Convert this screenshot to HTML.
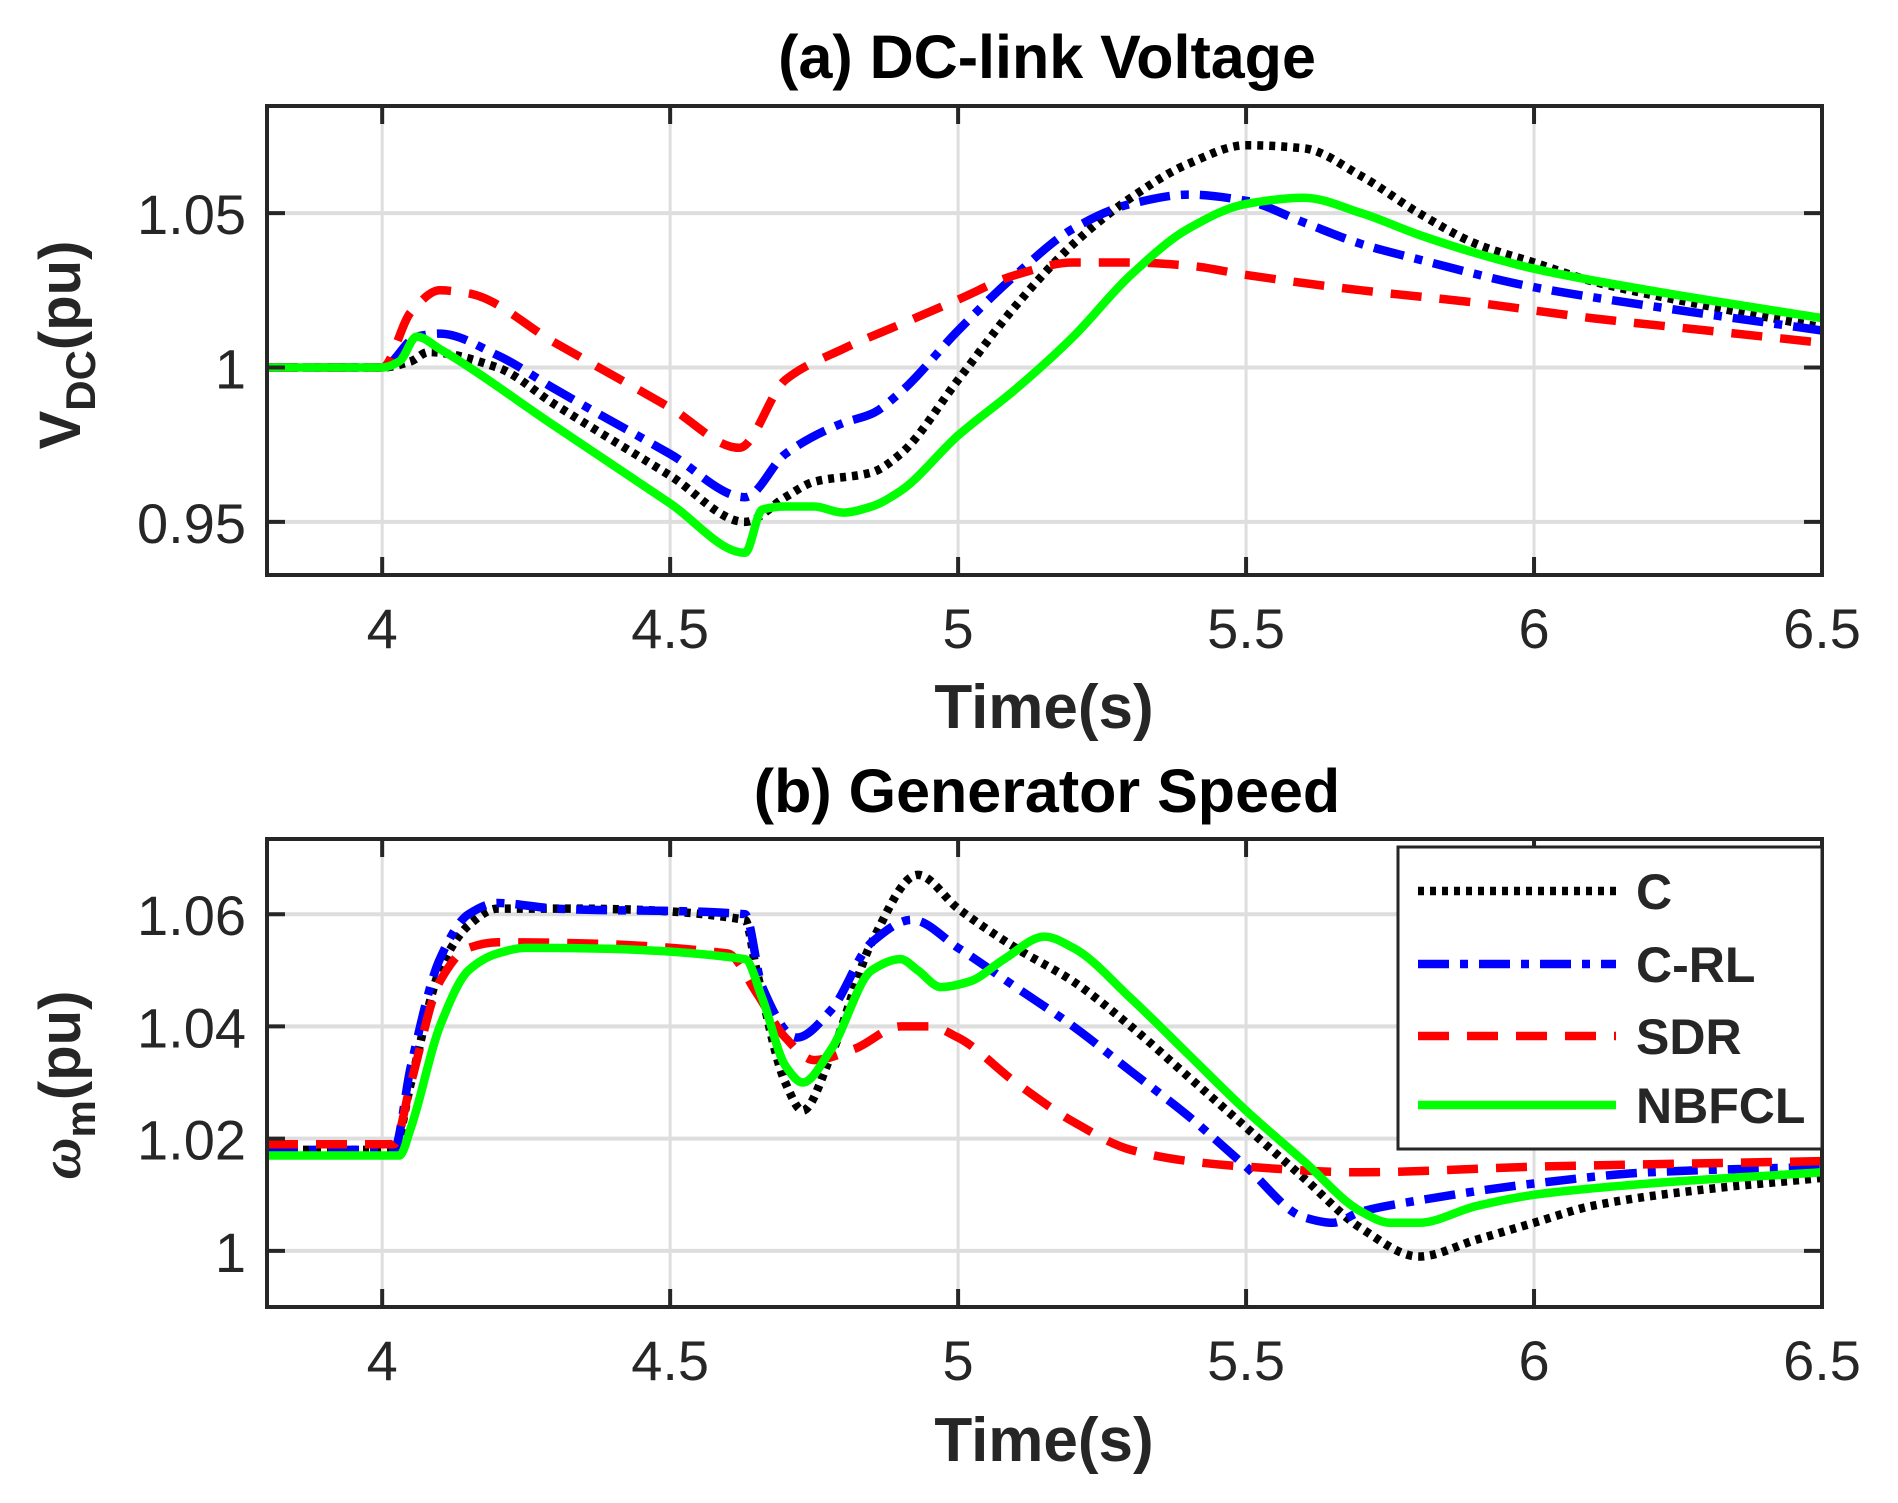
<!DOCTYPE html>
<html><head><meta charset="utf-8"><style>
html,body{margin:0;padding:0;background:#fff}
svg{display:block}
text{font-family:"Liberation Sans",Arial,sans-serif;fill:#262626}
</style></head><body>
<svg id="chart" width="1898" height="1503" viewBox="0 0 1898 1503" xmlns="http://www.w3.org/2000/svg"></svg>
<script>
// ---- Shared axis data
const xTicks = [4, 4.5, 5, 5.5, 6, 6.5];
const xTickLabels = ["4", "4.5", "5", "5.5", "6", "6.5"];
const yTicksA = [0.95, 1, 1.05];
const yTickLabelsA = ["0.95", "1", "1.05"];
const yTicksB = [1, 1.02, 1.04, 1.06];
const yTickLabelsB = ["1", "1.02", "1.04", "1.06"];
const seriesNames = ["C", "C-RL", "SDR", "NBFCL"];

// ---- Panel (a) DC-link voltage
const tA_C = [3.8,4.0,4.05,4.08,4.2,4.3,4.5,4.63,4.7,4.75,4.85,4.9,5.0,5.1,5.2,5.3,5.4,5.5,5.6,5.7,5.8,5.9,6.0,6.1,6.3,6.5];
const vA_C = [1.0,1.0,1.002,1.005,1.0,0.988,0.965,0.950,0.958,0.963,0.966,0.972,0.996,1.02,1.04,1.055,1.066,1.072,1.071,1.062,1.05,1.04,1.034,1.028,1.02,1.013];
const tA_CRL = [3.8,4.0,4.06,4.1,4.2,4.3,4.5,4.63,4.7,4.8,4.85,4.9,5.0,5.1,5.2,5.3,5.4,5.5,5.6,5.7,5.8,6.0,6.2,6.5];
const vA_CRL = [1.0,1.0,1.01,1.011,1.004,0.993,0.972,0.958,0.972,0.982,0.985,0.992,1.012,1.03,1.045,1.053,1.056,1.054,1.047,1.04,1.035,1.026,1.02,1.012];
const tA_SDR = [3.8,4.0,4.05,4.1,4.15,4.3,4.5,4.62,4.7,4.8,4.9,5.0,5.1,5.2,5.3,5.4,5.5,5.7,5.9,6.1,6.3,6.5];
const vA_SDR = [1.0,1.0,1.018,1.025,1.024,1.008,0.987,0.974,0.996,1.006,1.014,1.022,1.03,1.034,1.034,1.033,1.030,1.025,1.021,1.016,1.012,1.008];
const tA_NB = [3.8,4.0,4.03,4.06,4.1,4.3,4.5,4.63,4.66,4.7,4.75,4.8,4.85,4.9,5.0,5.1,5.2,5.3,5.4,5.5,5.6,5.7,5.8,5.9,6.0,6.2,6.5];
const vA_NB = [1.0,1.0,1.002,1.01,1.006,0.981,0.956,0.940,0.954,0.955,0.955,0.953,0.955,0.96,0.978,0.993,1.01,1.03,1.045,1.053,1.055,1.05,1.043,1.037,1.032,1.025,1.016];

// ---- Panel (b) generator speed
const tB_C = [3.8,4.02,4.05,4.1,4.15,4.2,4.3,4.63,4.65,4.7,4.73,4.78,4.85,4.93,5.0,5.1,5.2,5.3,5.4,5.5,5.6,5.7,5.8,5.9,6.0,6.1,6.3,6.5];
const vB_C = [1.018,1.018,1.03,1.05,1.058,1.061,1.061,1.059,1.05,1.03,1.025,1.035,1.055,1.067,1.061,1.054,1.048,1.04,1.031,1.022,1.013,1.004,0.999,1.002,1.005,1.008,1.011,1.013];
const tB_CRL = [3.8,4.02,4.05,4.1,4.15,4.2,4.3,4.63,4.66,4.72,4.78,4.85,4.92,5.0,5.1,5.2,5.3,5.4,5.5,5.6,5.65,5.7,5.8,6.0,6.2,6.5];
const vB_CRL = [1.018,1.018,1.033,1.052,1.06,1.062,1.061,1.06,1.047,1.038,1.043,1.055,1.059,1.054,1.047,1.04,1.032,1.024,1.015,1.006,1.005,1.007,1.009,1.012,1.014,1.015];
const tB_SDR = [3.8,4.02,4.05,4.1,4.15,4.2,4.6,4.65,4.7,4.75,4.82,4.9,4.95,5.0,5.1,5.2,5.3,5.4,5.5,5.7,6.0,6.5];
const vB_SDR = [1.019,1.019,1.03,1.048,1.054,1.055,1.053,1.046,1.038,1.034,1.036,1.04,1.04,1.038,1.03,1.023,1.018,1.016,1.015,1.014,1.015,1.016];
const tB_NB = [3.8,4.03,4.05,4.1,4.15,4.2,4.25,4.63,4.66,4.7,4.73,4.78,4.85,4.9,4.93,4.97,5.02,5.08,5.15,5.2,5.3,5.4,5.5,5.6,5.7,5.75,5.8,5.9,6.0,6.2,6.5];
const vB_NB = [1.017,1.017,1.022,1.04,1.05,1.053,1.054,1.052,1.045,1.033,1.03,1.036,1.05,1.052,1.05,1.047,1.048,1.052,1.056,1.054,1.045,1.035,1.025,1.016,1.007,1.005,1.005,1.008,1.01,1.012,1.014];

const NS = "http://www.w3.org/2000/svg";
const svg = document.getElementById('chart');
function mk(tag, attrs, parent) {
  const e = document.createElementNS(NS, tag);
  for (const k in attrs) e.setAttribute(k, attrs[k]);
  (parent || svg).appendChild(e);
  return e;
}
const styles = [
  {stroke:"#000", dash:"6 6"},
  {stroke:"#0000ff", dash:"31 11 8 11"},
  {stroke:"#ff0000", dash:"31 18"},
  {stroke:"#00ff00", dash:""}
];
function monotone(P) {
  const n = P.length;
  const dx = [], s = [];
  for (let i = 0; i < n-1; i++) { dx.push(P[i+1][0]-P[i][0]); s.push((P[i+1][1]-P[i][1])/dx[i]); }
  const m = new Array(n);
  m[0] = s[0]; m[n-1] = s[n-2];
  for (let i = 1; i < n-1; i++) {
    if (s[i-1]*s[i] <= 0) m[i] = 0;
    else {
      const w1 = 2*dx[i] + dx[i-1], w2 = dx[i] + 2*dx[i-1];
      m[i] = (w1 + w2) / (w1/s[i-1] + w2/s[i]);
    }
  }
  let d = "M" + P[0][0].toFixed(1) + "," + P[0][1].toFixed(1);
  for (let i = 0; i < n-1; i++) {
    const h = dx[i]/3;
    d += " C" + (P[i][0]+h).toFixed(1) + "," + (P[i][1]+m[i]*h).toFixed(1) + " " +
         (P[i+1][0]-h).toFixed(1) + "," + (P[i+1][1]-m[i+1]*h).toFixed(1) + " " +
         P[i+1][0].toFixed(1) + "," + P[i+1][1].toFixed(1);
  }
  return d;
}

function panel(cfg) {
  const L=267, R=1822, T=cfg.top, B=cfg.bottom;
  const xs = v => L + (v - 3.8) / (6.5 - 3.8) * (R - L);
  const ys = v => B - (v - cfg.ymin) / (cfg.ymax - cfg.ymin) * (B - T);
  const g = mk('g', {});
  
  
  const clipId = cfg.name + "-clip";
  const cp = mk('clipPath', {id:clipId}, g);
  mk('rect', {x:L, y:T, width:R-L, height:B-T}, cp);
  xTicks.forEach(t => {
    const l = mk('line', {x1:xs(t),x2:xs(t),y1:T,y2:B,stroke:"#dedede","stroke-width":3}, g);
    
    
  });
  cfg.yTicks.forEach(t => {
    const l = mk('line', {x1:L,x2:R,y1:ys(t),y2:ys(t),stroke:"#dedede","stroke-width":4}, g);
    
    
  });
  cfg.series.forEach((s, i) => {
    const P = s[0].map((t, j) => [xs(t), ys(s[1][j])]);
    const p = mk('path', {d:monotone(P), fill:"none", stroke:styles[i].stroke, "stroke-width":8.5, "stroke-dasharray":styles[i].dash, "stroke-linejoin":"round", "clip-path":"url(#"+clipId+")"}, g);
    
    
  });
  const box = mk('rect', {x:L,y:T,width:R-L,height:B-T,fill:"none",stroke:"#262626","stroke-width":4}, g);
  
  
  xTicks.forEach((t, i) => {
    mk('line', {x1:xs(t),x2:xs(t),y1:B,y2:B-18,stroke:"#262626","stroke-width":4}, g);
    mk('line', {x1:xs(t),x2:xs(t),y1:T,y2:T+18,stroke:"#262626","stroke-width":4}, g);
    const tx = mk('text', {x:xs(t), y:B+73, "text-anchor":"middle", "font-size":56}, g);
    tx.textContent = xTickLabels[i];
    
    
  });
  cfg.yTicks.forEach((t, i) => {
    mk('line', {x1:L,x2:L+18,y1:ys(t),y2:ys(t),stroke:"#262626","stroke-width":4}, g);
    mk('line', {x1:R,x2:R-18,y1:ys(t),y2:ys(t),stroke:"#262626","stroke-width":4}, g);
    const tx = mk('text', {x:L-21, y:ys(t)+21, "text-anchor":"end", "font-size":56}, g);
    tx.textContent = cfg.yLabels[i];
    
    
  });
  const ti = mk('text', {x:1047, y:cfg.titleY, "text-anchor":"middle", "font-size":61, "font-weight":"bold", style:"fill:#000"}, g);
  ti.textContent = cfg.title;
  
  
  const xl = mk('text', {x:1044, y:cfg.xlabY, "text-anchor":"middle", "font-size":62, "font-weight":"bold"}, g);
  xl.textContent = "Time(s)";
  
  
}

panel({name:"panel-a-dc-link-voltage", top:106, bottom:575, ymin:0.9328, ymax:1.0847,
  yTicks:yTicksA, yLabels:yTickLabelsA, title:"(a) DC-link Voltage", titleY:78, xlabY:728,
  series:[[tA_C,vA_C],[tA_CRL,vA_CRL],[tA_SDR,vA_SDR],[tA_NB,vA_NB]]});
panel({name:"panel-b-generator-speed", top:839, bottom:1307, ymin:0.990, ymax:1.0734,
  yTicks:yTicksB, yLabels:yTickLabelsB, title:"(b) Generator Speed", titleY:812, xlabY:1461,
  series:[[tB_C,vB_C],[tB_CRL,vB_CRL],[tB_SDR,vB_SDR],[tB_NB,vB_NB]]});

const yla = mk('text', {transform:"translate(80,345) rotate(-90)", "text-anchor":"middle", "font-size":58, "font-weight":"bold"});
yla.innerHTML = 'V<tspan font-size="42" dy="15">DC</tspan><tspan dy="-15">(pu)</tspan>';


const ylb = mk('text', {transform:"translate(80,1085) rotate(-90)", "text-anchor":"middle", "font-size":58, "font-weight":"bold"});
ylb.innerHTML = '<tspan font-style="italic" font-family="Liberation Serif">ω</tspan><tspan font-size="42" dy="15">m</tspan><tspan dy="-15">(pu)</tspan>';



const lg = mk('g', {});


mk('rect', {x:1398, y:847, width:424, height:302, fill:"#fff", stroke:"#262626", "stroke-width":3}, lg);
const legY = [891, 964, 1036, 1105];
seriesNames.forEach((n, i) => {
  const e = mk('g', {}, lg);
  
  
  mk('line', {x1:1418, x2:1616, y1:legY[i], y2:legY[i], stroke:styles[i].stroke, "stroke-width":8.5, "stroke-dasharray":styles[i].dash}, e);
  const t = mk('text', {x:1636, y:legY[i]+18, "font-size":50, "font-weight":"bold"}, e);
  t.textContent = n;
});
</script>
</body></html>
